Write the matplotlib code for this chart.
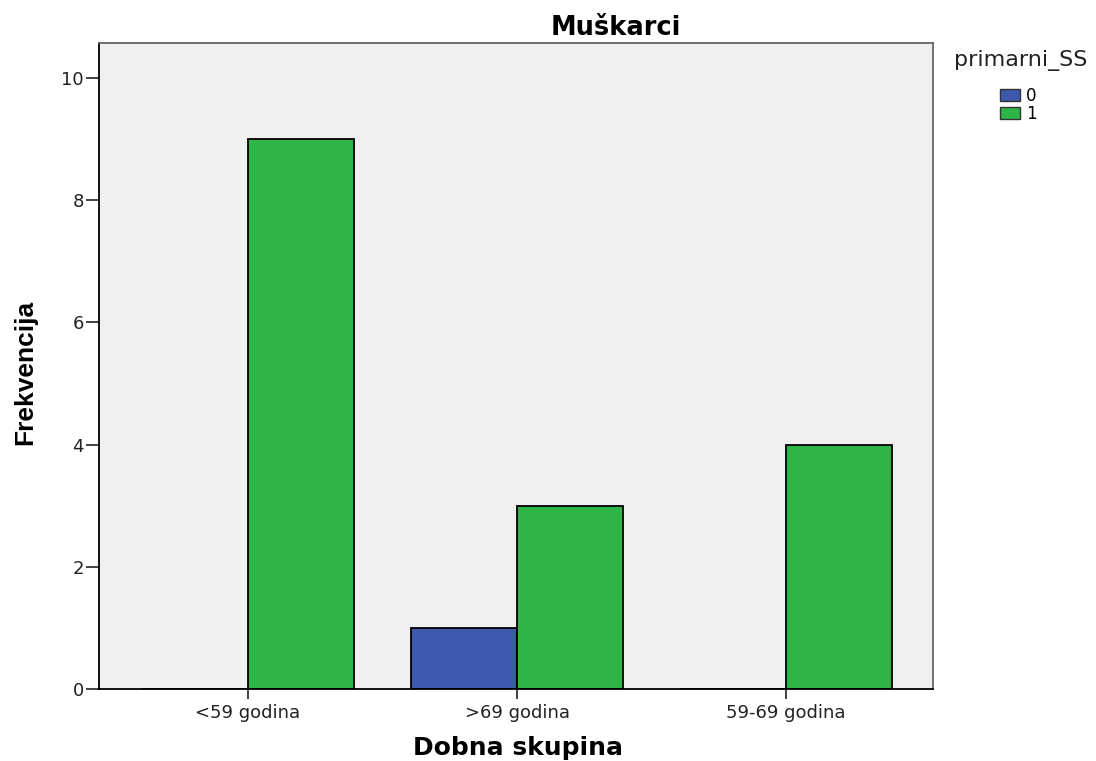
import numpy as np
import matplotlib.pyplot as plt
from matplotlib.patches import Patch

# podaci
kategorije = ['<59 godina', '>69 godina', '59-69 godina']
grupe = ['0', '1']
vrijednosti_0 = [0, 1, 0]
vrijednosti_1 = [9, 3, 4]

plava = '#3E58AC'
zelena = '#2DB548'

fig = plt.figure(figsize=(10.96, 7.61), dpi=100)
ax = fig.add_axes([0.0903, 0.0946, 0.761, 0.8489])
ax.set_facecolor('#F0F0F0')

x = np.arange(len(kategorije))
w = 0.395
ax.bar(x - w / 2, vrijednosti_0, w, color=plava, edgecolor='black', linewidth=1.3)
ax.bar(x + w / 2, vrijednosti_1, w, color=zelena, edgecolor='black', linewidth=1.3)

ax.set_xlim(-0.554, 2.546)
ax.set_ylim(0, 10.57)
ax.set_yticks([0, 2, 4, 6, 8, 10])
ax.set_xticks(x)
ax.set_xticklabels(kategorije)

for s in ['left', 'bottom', 'top', 'right']:
    ax.spines[s].set_linewidth(1.3)
ax.spines['top'].set_color('#666666')
ax.spines['right'].set_color('#666666')
ax.tick_params(axis='y', direction='out', length=9.5, width=1.2, pad=1.5,
               labelsize=13, colors='#222222')
ax.tick_params(axis='x', direction='out', length=7.5, width=1.2, pad=3,
               labelsize=13, colors='#222222')
for t in ax.get_xticklabels() + ax.get_yticklabels():
    t.set_fontfamily('DejaVu Sans')

fig.text(0.562, 0.963, 'Muškarci', ha='center', va='center', fontsize=18.5,
         fontweight='bold', family='DejaVu Sans')
fig.text(0.4726, 0.017, 'Dobna skupina', ha='center', va='center', fontsize=18,
         fontweight='bold', family='DejaVu Sans')
fig.text(0.023, 0.51, 'Frekvencija', ha='center', va='center', rotation=90,
         fontsize=19, fontweight='bold', family='Liberation Sans')

# legenda
fig.text(0.9316, 0.920, 'primarni_SS', ha='center', va='center', fontsize=16,
         family='DejaVu Sans', color='#222222')
handles = [Patch(facecolor=plava, edgecolor='#333333'),
           Patch(facecolor=zelena, edgecolor='#333333')]
fig.legend(handles, grupe, loc='upper left', bbox_to_anchor=(0.912, 0.886),
           frameon=False, borderpad=0, borderaxespad=0, handlelength=1.25,
           handleheight=0.8, handletextpad=0.35, labelspacing=0.0,
           prop={'family': 'DejaVu Sans', 'size': 12})

fig.savefig('out.png', dpi=100)
